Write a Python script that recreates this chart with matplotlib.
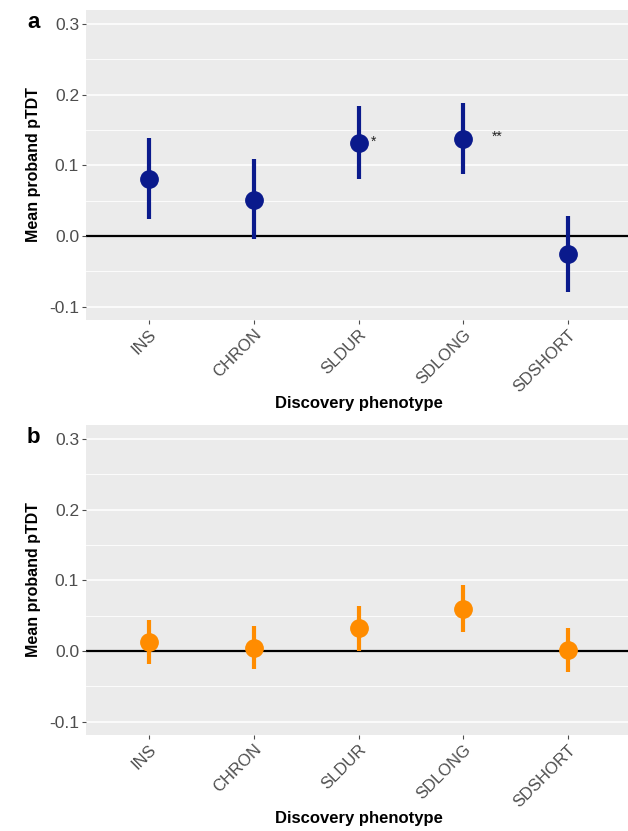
import matplotlib
matplotlib.use("Agg")
import matplotlib.pyplot as plt
import numpy as np

plt.rcParams['font.family'] = ['Liberation Sans', 'DejaVu Sans']

# Data
phenotypes = ["INS", "CHRON", "SLDUR", "SDLONG", "SDSHORT"]

mean_a = [0.081, 0.051, 0.132, 0.138, -0.025]
upper_a = [0.139, 0.109, 0.184, 0.189, 0.028]
lower_a = [0.024, -0.004, 0.080, 0.088, -0.079]
stars_a = ["", "", "*", "**", ""]

mean_b = [0.013, 0.004, 0.032, 0.060, 0.001]
upper_b = [0.044, 0.036, 0.064, 0.094, 0.032]
lower_b = [-0.019, -0.026, 0.0, 0.027, -0.030]

yticks = [-0.1, 0.0, 0.1, 0.2, 0.3]
minor_ticks = [-0.05, 0.05, 0.15, 0.25]

W, H = 628, 831
fig = plt.figure(figsize=(W / 100, H / 100), dpi=100)


def panel(rect, means, lo, hi, color, letter, stars=None):
    ax = fig.add_axes(rect)
    ax.set_facecolor("#EBEBEB")
    x = np.arange(1, len(phenotypes) + 1)
    ax.set_xlim(0.4, len(phenotypes) + 0.6)
    ax.set_ylim(-0.119, 0.32)
    for t in minor_ticks:
        ax.axhline(t, color="white", lw=0.6, zorder=0)
    for t in yticks:
        ax.axhline(t, color="white", lw=1.1, zorder=0)
    ax.axhline(0, color="black", lw=1.6, zorder=1)
    ax.vlines(x, lo, hi, color=color, lw=3.0, zorder=2)
    ax.plot(x, means, "o", color=color, ms=12.5, zorder=3)
    if stars:
        offs = {"*": 0.14, "**": 0.32}
        for xi, m, s in zip(x, means, stars):
            if s:
                ax.text(xi + offs[s], m + 0.002, s, ha="center", va="center",
                        fontsize=10, color="#222222")
    ax.set_yticks(yticks)
    ax.set_yticklabels(["-0.1", "0.0", "0.1", "0.2", "0.3"])
    ax.set_xticks(x)
    ax.set_xticklabels(phenotypes, rotation=45, ha="right", va="top",
                       rotation_mode="anchor")
    ax.tick_params(axis="both", colors="#4D4D4D", length=3,
                   width=0.8, labelcolor="#4D4D4D", pad=2)
    ax.tick_params(axis="y", labelsize=12.5)
    ax.tick_params(axis="x", labelsize=12)
    for sp in ax.spines.values():
        sp.set_visible(False)
    ax.set_ylabel("Mean proband pTDT", fontsize=11.5, fontweight="bold", labelpad=6)
    ax.set_xlabel("Discovery phenotype", fontsize=12, fontweight="bold", labelpad=1)
    ax.text(-0.097, 0.96, letter, transform=ax.transAxes, fontsize=16,
            fontweight="bold", ha="center", va="center")
    return ax


panel([86 / W, 1 - 320 / H, 545 / W, 310 / H], mean_a, lower_a, upper_a,
      "#0A1A8C", "a", stars_a)
panel([86 / W, 1 - 735 / H, 545 / W, 310 / H], mean_b, lower_b, upper_b,
      "#FF8C00", "b")

fig.savefig("out.png", dpi=100)
